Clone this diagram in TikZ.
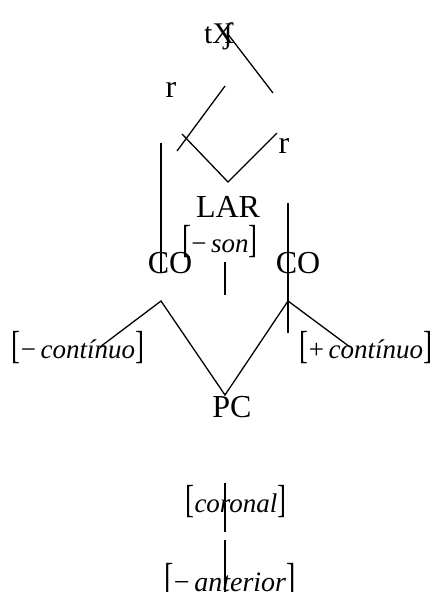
\documentclass[tikz,border=0pt]{standalone}
\usepackage{fontspec}
\setmainfont{Liberation Serif}
\usepackage{graphicx}
\usetikzlibrary{positioning}

\newcommand{\featbox}[1]{\scalebox{1}[1.45]{[}#1\scalebox{1}[1.45]{]}}

\begin{document}
\begin{tikzpicture}[
            x=1pt, y=-1pt,
            every node/.style={inner sep=0pt, anchor=base},
            tier/.style={font=\fontsize{32}{38}\selectfont},
            feature/.style={font=\fontsize{27}{32}\selectfont},
            assoc/.style={line width=1.3pt}
        ]
        \useasboundingbox (0,0) rectangle (433,592);

        % segments and nodes
        \node[tier, font=\fontsize{30}{36}\selectfont] (tx) at (219,43) {tX};
        \node[tier, font=\fontsize{30}{36}\selectfont] (esh) at (228,43) {ʃ};
        \node[tier] (rA) at (171,97) {r};
        \node[tier] (rB) at (284,153) {r};
        \node[tier] (lar) at (228,217) {LAR};
        \node[feature] (son) at (220,252) {\featbox{−\,\textit{son}}};
        \node[tier] (coA) at (170,273) {CO};
        \node[tier] (coB) at (298,273) {CO};
        \node[feature] (contA) at (78,358) {\featbox{−\,\textit{contínuo}}};
        \node[feature] (contB) at (366,358) {\featbox{+\,\textit{contínuo}}};
        \node[tier] (pc) at (232,417) {PC};
        \node[feature] (cor) at (236,512) {\featbox{\textit{coronal}}};
        \node[feature, font=\fontsize{28}{33}\selectfont] (ant) at (230,591) {\featbox{−\,\textit{anterior}}};

        % line ends
        \coordinate (a1) at (227,33);  \coordinate (a2) at (273,93);
        \coordinate (b1) at (225,86);  \coordinate (b2) at (177,151);
        \coordinate (c1) at (182,134); \coordinate (c2) at (228,182); \coordinate (c3) at (277,133);
        \coordinate (d1) at (161,143); \coordinate (d2) at (161,272);
        \coordinate (e1) at (225,262); \coordinate (e2) at (225,295);
        \coordinate (f1) at (288,203); \coordinate (f2) at (288,333);
        \coordinate (g1) at (100,347); \coordinate (g2) at (161,301); \coordinate (g3) at (225,395);
        \coordinate (g4) at (288,301); \coordinate (g5) at (350,347);
        \coordinate (h1) at (225,483); \coordinate (h2) at (225,532);
        \coordinate (k1) at (225,540); \coordinate (k2) at (225,600);

        \draw[assoc] (a1) -- (a2);
        \draw[assoc] (b1) -- (b2);
        \draw[assoc] (c1) -- (c2) -- (c3);
        \draw[assoc] (d1) -- (d2);
        \draw[assoc] (e1) -- (e2);
        \draw[assoc] (f1) -- (f2);
        \draw[assoc] (g1) -- (g2) -- (g3) -- (g4) -- (g5);
        \draw[assoc] (h1) -- (h2);
        \draw[assoc] (k1) -- (k2);
\end{tikzpicture}
\end{document}
